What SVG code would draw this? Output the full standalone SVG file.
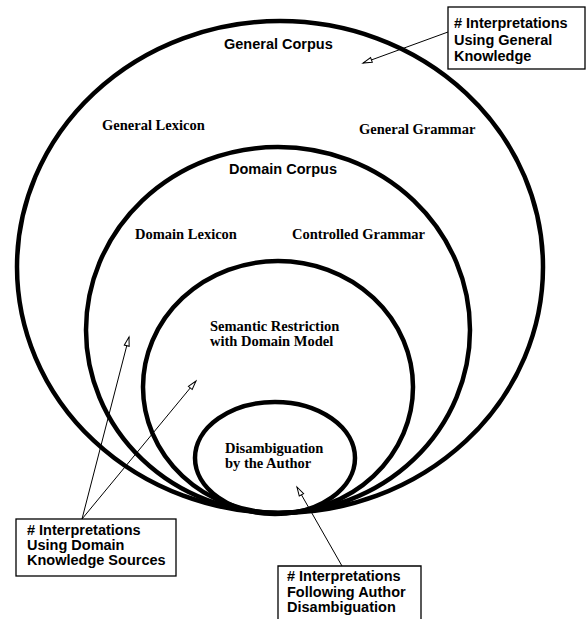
<svg xmlns="http://www.w3.org/2000/svg" width="586" height="619" viewBox="0 0 586 619">
<style>
.ring{fill:none;stroke:#000;stroke-width:4.5}
.sans{font-family:"Liberation Sans",Arial,sans-serif;font-weight:bold;font-size:14.5px;fill:#000}
.serif{font-family:"Liberation Serif","Times New Roman",serif;font-weight:bold;font-size:14.5px;fill:#000}
.box{fill:#fff;stroke:#000;stroke-width:1.3}
.conn{fill:none;stroke:#000;stroke-width:1}
</style>
<defs>
<marker id="ah" markerUnits="userSpaceOnUse" markerWidth="12" markerHeight="8" refX="10" refY="3.5" orient="auto">
<path d="M1,1 L10,3.5 L1,6 Z" fill="#fff" stroke="#000" stroke-width="1"/>
</marker>
</defs>
<rect width="586" height="619" fill="#fff"/>
<g id="general-corpus">
<ellipse class="ring" cx="280" cy="267" rx="263" ry="246"/>
<text class="sans" x="224" y="49">General Corpus</text>
<text class="serif" x="102" y="130">General Lexicon</text>
<text class="serif" x="359" y="134">General Grammar</text>
</g>
<g id="domain-corpus">
<ellipse class="ring" cx="278" cy="330" rx="192" ry="183"/>
<text class="sans" x="229" y="174">Domain Corpus</text>
<text class="serif" x="135" y="239">Domain Lexicon</text>
<text class="serif" x="292" y="239">Controlled Grammar</text>
</g>
<g id="semantic-restriction">
<ellipse class="ring" cx="278" cy="387" rx="135" ry="126"/>
<text class="serif" x="210" y="331">Semantic Restriction</text>
<text class="serif" x="210" y="346">with Domain Model</text>
</g>
<g id="disambiguation">
<ellipse class="ring" cx="275" cy="458" rx="80" ry="56"/>
<text class="serif" x="225" y="453">Disambiguation</text>
<text class="serif" x="225" y="468">by the Author</text>
</g>
<g id="connectors">
<line class="conn" x1="448" y1="32" x2="363" y2="63" marker-end="url(#ah)"/>
<line class="conn" x1="82" y1="519" x2="129" y2="337" marker-end="url(#ah)"/>
<line class="conn" x1="82" y1="519" x2="196" y2="381" marker-end="url(#ah)"/>
<line class="conn" x1="342" y1="566" x2="297" y2="487" marker-end="url(#ah)"/>
</g>
<g id="note-general">
<rect class="box" x="448" y="7" width="137" height="62"/>
<text class="sans" x="454" y="28">
<tspan x="454" y="28"># Interpretations</tspan>
<tspan x="454" y="44.5">Using General</tspan>
<tspan x="454" y="61">Knowledge</tspan>
</text>
</g>
<g id="note-domain">
<rect class="box" x="16" y="519" width="160" height="57"/>
<text class="sans" x="27" y="535">
<tspan x="27" y="535"># Interpretations</tspan>
<tspan x="27" y="550">Using Domain</tspan>
<tspan x="27" y="565">Knowledge Sources</tspan>
</text>
</g>
<g id="note-author">
<path class="box" d="M278,625 V566 H421 V625"/>
<text class="sans" x="287" y="581">
<tspan x="287" y="581"># Interpretations</tspan>
<tspan x="287" y="597">Following Author</tspan>
<tspan x="287" y="612">Disambiguation</tspan>
</text>
</g>
</svg>
